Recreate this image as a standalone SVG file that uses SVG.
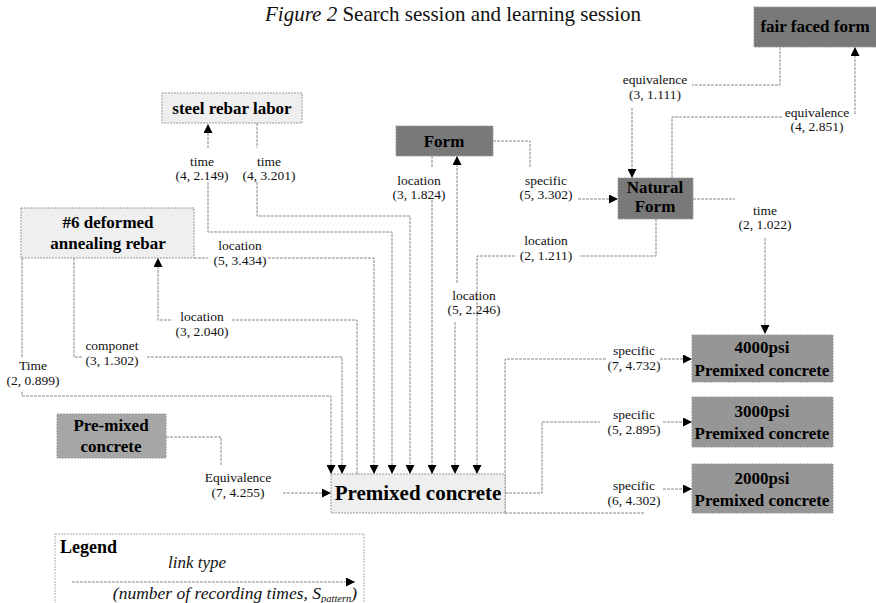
<svg xmlns="http://www.w3.org/2000/svg" width="876" height="603" viewBox="0 0 876 603">
<defs>
<marker id="ah" viewBox="0 0 8 8" refX="8" refY="4" markerWidth="9" markerHeight="9" markerUnits="userSpaceOnUse" orient="auto">
<path d="M0,0 L8,4 L0,8 z" fill="#000"/>
</marker>
<style>
.n rect{stroke:#999;stroke-width:1;stroke-dasharray:2 1}
.dark{fill:#797979}
.mid{fill:#969696}
.pm{fill:#a6a6a6}
.light{fill:#efefef}
.nt{font-family:"Liberation Serif","Times New Roman",serif;font-weight:bold;font-size:17px;fill:#000;text-anchor:middle}
.big{font-size:21px}
.el{font-family:"Liberation Serif","Times New Roman",serif;font-size:13.5px;fill:#111;text-anchor:middle}
#conn path{fill:none;stroke:#888;stroke-width:1;stroke-dasharray:3 1}
#conn path.a{marker-end:url(#ah)}
</style>
</defs>
<rect width="876" height="603" fill="#fff"/>
<text x="265" y="21" font-family="'Liberation Serif','Times New Roman',serif" font-size="21" fill="#111"><tspan font-style="italic">Figure 2</tspan> Search session and learning session</text>

<g id="conn">
<path d="M22,258 V358"/>
<path class="a" d="M22,392 V396 H331 V474"/>
<path d="M74,258 V357 H82"/>
<path class="a" d="M147,357 H342 V474"/>
<path d="M357,474 V320 H231"/>
<path class="a" d="M171,320 H158 V258"/>
<path d="M194,258 H208"/>
<path class="a" d="M268,258 H374 V474"/>
<path class="a" d="M208,148 V124"/>
<path class="a" d="M208,182 V232 H392 V474"/>
<path d="M257,123 V148"/>
<path class="a" d="M257,182 V216 H410 V474"/>
<path d="M432,156 V168"/>
<path class="a" d="M432,200 V474"/>
<path class="a" d="M457,283 V156"/>
<path class="a" d="M455,322 V474"/>
<path d="M656,219 V256 H580"/>
<path class="a" d="M515,256 H477 V474"/>
<path d="M493,141 H530 V168"/>
<path class="a" d="M578,199 H618"/>
<path d="M780,47 V85 H692"/>
<path class="a" d="M632,108 V178"/>
<path d="M672,178 V117 H783"/>
<path class="a" d="M855,114 V47"/>
<path d="M693,199 H735"/>
<path class="a" d="M765,238 V334"/>
<path d="M166,437 H221 V466"/>
<path class="a" d="M283,493 H331"/>
<path d="M505,513 V359 H607"/>
<path class="a" d="M660,359 H692"/>
<path d="M505,493 H542 V422 H600"/>
<path class="a" d="M663,422 H692"/>
<path d="M505,513 H645"/>
<path class="a" d="M663,489 H692"/>
<path class="a" d="M72,582 H355"/>
</g>

<g id="labels">
<text class="el" x="202" y="166">time<tspan x="202" y="180">(4, 2.149)</tspan></text>
<text class="el" x="269" y="166">time<tspan x="269" y="180">(4, 3.201)</tspan></text>
<text class="el" x="240" y="250">location<tspan x="240" y="265">(5, 3.434)</tspan></text>
<text class="el" x="202" y="321">location<tspan x="202" y="336">(3, 2.040)</tspan></text>
<text class="el" x="112" y="350">componet<tspan x="112" y="365">(3, 1.302)</tspan></text>
<text class="el" x="33" y="370">Time<tspan x="33" y="385">(2, 0.899)</tspan></text>
<text class="el" x="419" y="185">location<tspan x="419" y="199">(3, 1.824)</tspan></text>
<text class="el" x="546" y="185">specific<tspan x="546" y="199">(5, 3.302)</tspan></text>
<text class="el" x="546" y="245">location<tspan x="546" y="260">(2, 1.211)</tspan></text>
<text class="el" x="474" y="300">location<tspan x="474" y="314">(5, 2.246)</tspan></text>
<text class="el" x="655" y="84">equivalence<tspan x="655" y="99">(3, 1.111)</tspan></text>
<text class="el" x="817" y="117">equivalence<tspan x="817" y="131">(4, 2.851)</tspan></text>
<text class="el" x="765" y="215">time<tspan x="765" y="229">(2, 1.022)</tspan></text>
<text class="el" x="238" y="482">Equivalence<tspan x="238" y="497">(7, 4.255)</tspan></text>
<text class="el" x="634" y="355">specific<tspan x="634" y="370">(7, 4.732)</tspan></text>
<text class="el" x="634" y="419">specific<tspan x="634" y="434">(5, 2.895)</tspan></text>
<text class="el" x="634" y="490">specific<tspan x="634" y="505">(6, 4.302)</tspan></text>
</g>

<g id="steel-rebar-labor" class="n"><rect class="light" x="162" y="93" width="140" height="30"/><text class="nt" x="232" y="114">steel rebar labor</text></g>
<g id="deformed-rebar" class="n"><rect class="light" x="21" y="208" width="173" height="50"/><text class="nt" x="108" y="228">#6 deformed</text><text class="nt" x="108" y="249">annealing rebar</text></g>
<g id="form" class="n"><rect class="dark" x="396" y="126" width="97" height="30"/><text class="nt" x="444" y="147">Form</text></g>
<g id="natural-form" class="n"><rect class="dark" x="618" y="178" width="75" height="41"/><text class="nt" x="655" y="193">Natural</text><text class="nt" x="655" y="212">Form</text></g>
<g id="fair-faced-form" class="n"><rect class="dark" x="754" y="7" width="124" height="40"/><text class="nt" x="815" y="32">fair faced form</text></g>
<g id="pre-mixed-concrete" class="n"><rect class="pm" x="57" y="414" width="109" height="44"/><text class="nt" x="111" y="431">Pre-mixed</text><text class="nt" x="111" y="452">concrete</text></g>
<g id="premixed-concrete" class="n"><rect class="light" x="331" y="474" width="174" height="39"/><text class="nt big" x="418" y="500">Premixed concrete</text></g>
<g id="psi4000" class="n"><rect class="mid" x="692" y="335" width="141" height="47"/><text class="nt" x="762" y="353">4000psi</text><text class="nt" x="762" y="376">Premixed concrete</text></g>
<g id="psi3000" class="n"><rect class="mid" x="692" y="397" width="141" height="50"/><text class="nt" x="762" y="417">3000psi</text><text class="nt" x="762" y="439">Premixed concrete</text></g>
<g id="psi2000" class="n"><rect class="mid" x="692" y="464" width="141" height="49"/><text class="nt" x="762" y="484">2000psi</text><text class="nt" x="762" y="506">Premixed concrete</text></g>

<g id="legend">
<rect x="55" y="534" width="309" height="80" fill="none" stroke="#aaa" stroke-width="1" stroke-dasharray="2 1"/>
<text x="60" y="553" font-family="'Liberation Serif','Times New Roman',serif" font-weight="bold" font-size="18" fill="#000">Legend</text>
<text x="197" y="568" font-family="'Liberation Serif','Times New Roman',serif" font-style="italic" font-size="17" fill="#111" text-anchor="middle">link type</text>
<text x="235" y="599" font-family="'Liberation Serif','Times New Roman',serif" font-style="italic" font-size="17.5" fill="#111" text-anchor="middle">(number of recording times, S<tspan font-size="10.5" dy="3">pattern</tspan><tspan dy="-3">)</tspan></text>
</g>
</svg>
